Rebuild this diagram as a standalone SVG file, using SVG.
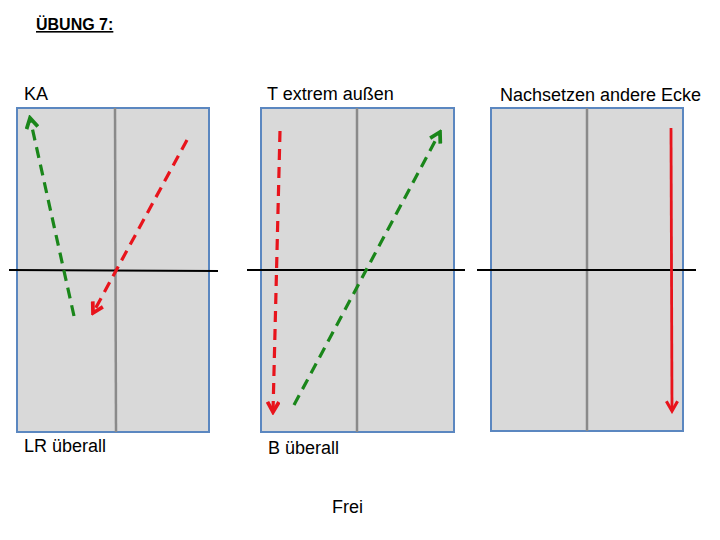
<svg xmlns="http://www.w3.org/2000/svg" width="720" height="540" viewBox="0 0 720 540">
<style>
.court{fill:#d9d9d9;stroke:#5b87c0;stroke-width:2}
.mid{stroke:#8a8a8a;stroke-width:2.5}
.net{stroke:#000;stroke-width:2}
.lbl{font-family:"Liberation Sans",Arial,sans-serif;font-size:18px;fill:#000}
.title{font-family:"Liberation Sans",Arial,sans-serif;font-size:16px;font-weight:bold;fill:#000;text-decoration:underline}
.g{stroke:#1a861a;stroke-width:3.2;fill:none;stroke-dasharray:11 7}
.r{stroke:#e8141c;stroke-width:3.2;fill:none;stroke-dasharray:11 7}
.rs{stroke:#e8141c;stroke-width:2.8;fill:none}
</style>
<defs>
<marker id="ag" viewBox="0 0 10 10" refX="8" refY="5" markerWidth="4.5" markerHeight="4.5" orient="auto" markerUnits="strokeWidth">
<path d="M1,1 L8,5 L1,9" fill="none" stroke="#1a861a" stroke-width="2.6"/>
</marker>
<marker id="ar" viewBox="0 0 10 10" refX="8" refY="5" markerWidth="4.5" markerHeight="4.5" orient="auto" markerUnits="strokeWidth">
<path d="M1,1 L8,5 L1,9" fill="none" stroke="#e8141c" stroke-width="2.6"/>
</marker>
<marker id="ars" viewBox="0 0 10 10" refX="8" refY="5" markerWidth="5" markerHeight="5" orient="auto" markerUnits="strokeWidth">
<path d="M1,1 L8,5 L1,9" fill="none" stroke="#e8141c" stroke-width="2.2"/>
</marker>
</defs>
<text class="title" x="36" y="30">ÜBUNG 7:</text>
<g id="court1">
<rect class="court" x="17" y="108" width="192" height="324"/>
<line class="mid" x1="115" y1="108" x2="116" y2="432"/>
<line class="net" x1="9" y1="270" x2="218" y2="271"/>
<text class="lbl" x="24" y="100">KA</text>
<text class="lbl" x="24" y="452">LR überall</text>
</g>
<g id="court2">
<rect class="court" x="261" y="108" width="193" height="324"/>
<line class="mid" x1="357" y1="108" x2="357" y2="432"/>
<line class="net" x1="247" y1="270" x2="465" y2="270"/>
<text class="lbl" x="267" y="100">T extrem außen</text>
<text class="lbl" x="268" y="454">B überall</text>
</g>
<g id="court3">
<rect class="court" x="491" y="108" width="192" height="323"/>
<line class="mid" x1="587" y1="108" x2="587" y2="431"/>
<line class="net" x1="477" y1="270" x2="696" y2="270"/>
<text class="lbl" x="500" y="101">Nachsetzen andere Ecke</text>
</g>
<text class="lbl" x="332" y="513">Frei</text>
<g id="connectors">
<line class="g" x1="74" y1="316" x2="30" y2="118" marker-end="url(#ag)"/>
<line class="r" x1="187" y1="140" x2="93" y2="313" marker-end="url(#ar)"/>
<line class="r" x1="280" y1="131" x2="273" y2="412" marker-end="url(#ar)"/>
<line class="g" x1="294" y1="405" x2="440" y2="132" marker-end="url(#ag)"/>
<line class="rs" x1="671" y1="128" x2="672" y2="411" marker-end="url(#ars)"/>
</g>
</svg>
